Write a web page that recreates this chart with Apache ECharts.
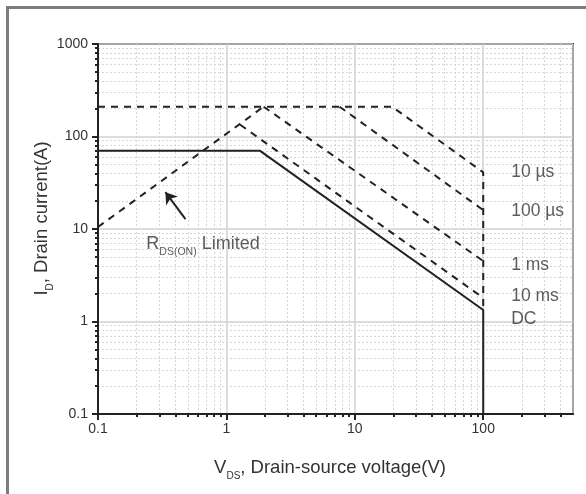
<!DOCTYPE html>
<html><head><meta charset="utf-8">
<script src="https://cdn.jsdelivr.net/npm/echarts@6/dist/echarts.min.js"></script>
<style>html,body{margin:0;padding:0;background:#fff}#c{width:586px;height:494px}</style>
</head><body><div id="c"></div>
<script>
// ---- data ----
const xTickLabels = ['0.1', '1', '10', '100'];
const yTickLabels = ['0.1', '1', '10', '100', '1000'];
const xMinorTicks = [0.2,0.3,0.4,0.5,0.6,0.7,0.8,0.9,2,3,4,5,6,7,8,9,20,30,40,50,60,70,80,90,200,300,400];
const yMinorTicks = [0.2,0.3,0.4,0.5,0.6,0.7,0.8,0.9,2,3,4,5,6,7,8,9,20,30,40,50,60,70,80,90,200,300,400,500,600,700,800,900];

const dcV = [0.1, 1.83, 100, 100];
const dcI = [70, 70, 1.33, 0.1];
const t10usV = [0.1, 19.5, 100, 100];
const t10usI = [210, 210, 41, 1.33];
const t100usV = [7.6, 100];
const t100usI = [210, 16];
const t1msV = [1.95, 100];
const t1msI = [210, 4.5];
const t10msV = [1.28, 100];
const t10msI = [134, 1.8];
const rdsV = [0.1, 1.95];
const rdsI = [10.5, 210];

const pulseLabels = ['10 µs', '100 µs', '1 ms', '10 ms', 'DC'];
const pulseLabelV = [165, 165, 165, 165, 165];
const pulseLabelI = [41, 15.5, 4.1, 1.9, 1.06];

const arrowFrom = [0.48, 12.8];
const arrowTo = [0.335, 25];
const rdsLabelAt = [0.238, 6.55];

// ---- helpers ----
const pairs = (xs, ys) => xs.map((x, i) => [x, ys[i]]);
const FONT = 'Liberation Sans, Arial, sans-serif';
const INK = '#222';
const TXT = '#333';

function labelFmt(list) {
  return v => { const m = list.find(l => Math.abs(Number(l) - v) < 1e-9 * Math.max(1, v)); return m || ''; };
}

const chart = echarts.init(document.getElementById('c'), null, {renderer: 'canvas'});

const subRich = {
  a: {fontSize: 18.5, fontFamily: FONT, color: TXT, lineHeight: 22, verticalAlign: 'top'},
  s: {fontSize: 10, fontFamily: FONT, color: TXT, lineHeight: 10, padding: [13, 0, 0, 0], verticalAlign: 'top'}
};

const dashStyle = {color: INK, width: 2, type: [7, 6]};

function lineSeries(xs, ys, style, extra) {
  return Object.assign({
    type: 'line', xAxisIndex: 0, yAxisIndex: 0,
    data: pairs(xs, ys), showSymbol: false, symbol: 'none',
    lineStyle: style, silent: true, animation: false, z: 3
  }, extra || {});
}

const option = {
  animation: false,
  backgroundColor: '#fff',
  grid: {left: 98, right: 13, top: 44, bottom: 80, show: true, borderColor: INK, borderWidth: 2, backgroundColor: 'transparent'},
  xAxis: [
    {
      type: 'log', logBase: 10, min: 0.1, max: 500, position: 'bottom',
      axisLine: {show: true, lineStyle: {color: INK, width: 2}},
      axisTick: {show: true, inside: false, length: 6, lineStyle: {color: INK, width: 2}},
      axisLabel: {show: true, margin: 8, fontSize: 14, fontFamily: FONT, color: TXT, formatter: labelFmt(xTickLabels), showMaxLabel: false},
      splitLine: {show: true, lineStyle: {color: '#d2d2d2', width: 1.5}},
      name: '{a|V}{s|DS}{a|, Drain-source voltage(V)}',
      nameLocation: 'middle', nameGap: 44, nameMoveOverlap: false,
      nameTextStyle: {rich: subRich, padding: [0, 11, 0, 0]}
    },
    {
      type: 'log', logBase: 10, min: 0.1, max: 500, position: 'bottom',
      axisLine: {show: false},
      axisTick: {show: true, inside: false, length: 3, customValues: xMinorTicks, lineStyle: {color: INK, width: 2}},
      axisLabel: {show: false},
      splitLine: {show: true, lineStyle: {color: '#d6d6d6', width: 1, type: [2, 2]}}
    }
  ],
  yAxis: [
    {
      type: 'log', logBase: 10, min: 0.1, max: 1000, position: 'left',
      axisLine: {show: true, lineStyle: {color: INK, width: 2}},
      axisTick: {show: true, inside: false, length: 6, lineStyle: {color: INK, width: 2}},
      axisLabel: {show: true, margin: 10, fontSize: 14, fontFamily: FONT, color: TXT, formatter: labelFmt(yTickLabels)},
      splitLine: {show: true, lineStyle: {color: '#d2d2d2', width: 1.5}},
      name: '{a|I}{s|D}{a|, Drain current(A)}',
      nameLocation: 'middle', nameGap: 44, nameMoveOverlap: false,
      nameTextStyle: {rich: subRich, padding: [0, 0, 0, 21]}
    },
    {
      type: 'log', logBase: 10, min: 0.1, max: 1000, position: 'left',
      axisLine: {show: false},
      axisTick: {show: true, inside: false, length: 3, customValues: yMinorTicks, lineStyle: {color: INK, width: 2}},
      axisLabel: {show: false},
      splitLine: {show: true, lineStyle: {color: '#d6d6d6', width: 1, type: [2, 2]}}
    }
  ],
  graphic: [
    {type: 'rect', shape: {x: 7.5, y: 7.5, width: 800, height: 800}, style: {fill: null, stroke: '#7d7d7d', lineWidth: 3}, silent: true}
  ],
  series: [
    lineSeries(t10usV, t10usI, dashStyle),
    lineSeries(t100usV, t100usI, dashStyle),
    lineSeries(t1msV, t1msI, dashStyle),
    lineSeries(t10msV, t10msI, dashStyle),
    lineSeries(rdsV, rdsI, dashStyle, {
      markLine: {
        silent: true, animation: false,
        symbol: ['none', 'arrow'], symbolSize: 11,
        label: {show: false},
        lineStyle: {color: INK, width: 2, type: 'solid'},
        itemStyle: {color: INK},
        data: [[{coord: arrowFrom}, {coord: arrowTo}]]
      }
    }),
    lineSeries(dcV, dcI, {color: INK, width: 2, type: 'solid'}),
    {
      type: 'scatter', symbolSize: 0, silent: true, animation: false,
      data: pulseLabels.map((n, i) => ({name: n, value: [pulseLabelV[i], pulseLabelI[i]]})),
      label: {show: true, position: 'right', distance: 0, formatter: '{b}', fontSize: 17.5, fontFamily: FONT, color: TXT}
    },
    {
      type: 'scatter', symbolSize: 0, silent: true, animation: false,
      data: [{name: 'R', value: rdsLabelAt}],
      label: {show: true, position: 'right', distance: 0,
        formatter: '{a|R}{s|DS(ON)}{a| Limited}',
        rich: {
          a: {fontSize: 18, fontFamily: FONT, color: TXT, lineHeight: 21, verticalAlign: 'top'},
          s: {fontSize: 10.5, fontFamily: FONT, color: TXT, lineHeight: 10, padding: [11, 0, 0, 0], verticalAlign: 'top'}
        }
      }
    }
  ]
};
chart.setOption(option);
</script>
</body></html>
